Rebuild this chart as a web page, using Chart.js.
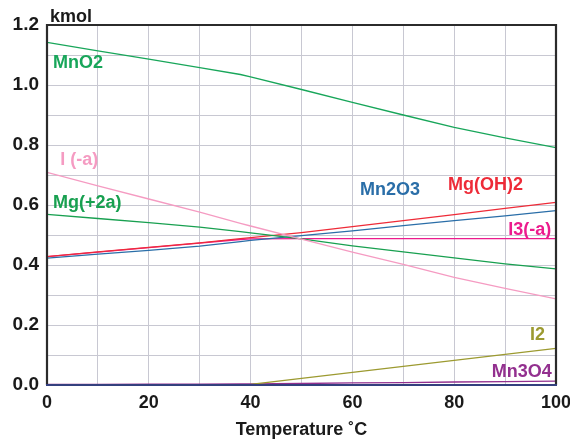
<!DOCTYPE html>
<html>
<head>
<meta charset="utf-8">
<script src="https://cdn.jsdelivr.net/npm/chart.js@4.4.0/dist/chart.umd.min.js"></script>
<style>
html,body{margin:0;padding:0;background:#fff;}
#wrap{width:570px;height:441px;position:relative;}
</style>
</head>
<body>
<div id="wrap"><canvas id="c" width="570" height="441"></canvas></div>
<script>
const temps = [0, 10, 20, 30, 38, 40, 50, 60, 70, 80, 90, 100];
const MnO2   = [1.142, 1.114, 1.086, 1.058, 1.035, 1.027, 0.985, 0.942, 0.900, 0.859, 0.824, 0.791];
const I_a    = [0.709, 0.664, 0.620, 0.576, 0.539, 0.530, 0.486, 0.443, 0.402, 0.359, 0.322, 0.287];
const Mg2a   = [0.569, 0.555, 0.541, 0.526, 0.511, 0.507, 0.487, 0.464, 0.444, 0.424, 0.404, 0.387];
const MgOH2  = [0.428, 0.444, 0.459, 0.474, 0.488, 0.491, 0.508, 0.528, 0.548, 0.568, 0.589, 0.609];
const Mn2O3  = [0.423, 0.436, 0.449, 0.463, 0.478, 0.482, 0.498, 0.514, 0.531, 0.548, 0.564, 0.581];
const I3_a   = [0.428, 0.443, 0.458, 0.473, 0.485, 0.487, 0.488, 0.488, 0.488, 0.488, 0.488, 0.488];
const I2     = [0, 0, 0, 0, 0, 0.002, 0.022, 0.042, 0.062, 0.082, 0.102, 0.122];
const Mn3O4  = [0.002, 0.002, 0.003, 0.003, 0.004, 0.004, 0.005, 0.007, 0.008, 0.010, 0.011, 0.013];

const xTickLabels = ['0', '20', '40', '60', '80', '100'];
const yTickLabels = ['0.0', '0.2', '0.4', '0.6', '0.8', '1.0', '1.2'];

const seriesNames = ['MnO2', 'I (-a)', 'Mg(+2a)', 'Mn2O3', 'Mg(OH)2', 'I3(-a)', 'I2', 'Mn3O4'];
const seriesData  = [MnO2, I_a, Mg2a, Mn2O3, MgOH2, I3_a, I2, Mn3O4];
const colors = ['#18a65a', '#f59bc2', '#18a050', '#2a6ea8', '#ee2b38', '#ec1b8d', '#9c9a30', '#93308f'];

// label anchors in data units (temperature, kmol), left aligned, alphabetic baseline
const labelPos = [
  [1.2, 1.057], [2.6, 0.733], [1.2, 0.590], [61.5, 0.633],
  [78.8, 0.650], [90.6, 0.500], [94.9, 0.150], [87.4, 0.027]
];

const FONT = '"Liberation Sans", Arial, sans-serif';

const datasets = seriesNames.map((n, i) => ({
  label: n,
  data: temps.map((t, k) => ({x: t, y: seriesData[i][k]})),
  borderColor: colors[i],
  backgroundColor: colors[i],
  borderWidth: 1.3,
  pointRadius: 0,
  tension: 0,
  fill: false
}));

const framePlugin = {
  id: 'frame',
  afterDatasetsDraw(chart) {
    const {ctx, chartArea: a} = chart;
    ctx.save();
    ctx.lineWidth = 2.2;
    ctx.strokeStyle = '#2b2b2b';
    ctx.beginPath();
    ctx.moveTo(a.left, a.bottom);
    ctx.lineTo(a.left, a.top);
    ctx.lineTo(a.right, a.top);
    ctx.lineTo(a.right, a.bottom);
    ctx.stroke();
    ctx.strokeStyle = '#34407e';
    ctx.beginPath();
    ctx.moveTo(a.left - 1, a.bottom);
    ctx.lineTo(a.right + 1, a.bottom);
    ctx.stroke();
    // series labels
    const xs = chart.scales.x, ys = chart.scales.y;
    ctx.font = 'bold 18px ' + FONT;
    ctx.textAlign = 'left';
    ctx.textBaseline = 'alphabetic';
    seriesNames.forEach((n, i) => {
      ctx.fillStyle = colors[i];
      ctx.fillText(n, xs.getPixelForValue(labelPos[i][0]), ys.getPixelForValue(labelPos[i][1]));
    });
    // unit label
    ctx.fillStyle = '#1a1a1a';
    ctx.font = 'bold 18px ' + FONT;
    ctx.fillText('kmol', a.left + 3, a.top - 3);
    ctx.restore();
  }
};

new Chart(document.getElementById('c'), {
  type: 'line',
  data: {datasets},
  options: {
    responsive: false,
    animation: false,
    layout: {padding: {top: 25, right: 14, left: 0, bottom: 0}},
    plugins: {legend: {display: false}, tooltip: {enabled: false}},
    scales: {
      x: {
        type: 'linear', min: 0, max: 100,
        afterFit(s) { s.height = 56; s.paddingRight = 0; s.paddingLeft = 0; },
        border: {display: false},
        grid: {color: '#c8c8d2', lineWidth: 1, drawTicks: false},
        title: {display: true, text: 'Temperature ˚C', color: '#1a1a1a',
                font: {family: FONT, size: 18, weight: 'bold'}, padding: {top: 9, bottom: 0}},
        ticks: {
          stepSize: 10, autoSkip: false, maxRotation: 0, padding: 7,
          color: '#1a1a1a', font: {family: FONT, size: 18, weight: 'bold'},
          callback: v => (Math.round(v) % 20 === 0 ? xTickLabels[Math.round(v) / 20] : '')
        }
      },
      y: {
        type: 'linear', min: 0, max: 1.2,
        afterFit(s) { s.width = 47; s.paddingTop = 0; s.paddingBottom = 0; },
        border: {display: false},
        grid: {color: '#c8c8d2', lineWidth: 1, drawTicks: false},
        ticks: {
          stepSize: 0.1, autoSkip: false, padding: 8,
          color: '#1a1a1a', font: {family: FONT, size: 19, weight: 'bold'},
          callback: v => {
            const k = Math.round(v * 10);
            return k % 2 === 0 ? yTickLabels[k / 2] : '';
          }
        }
      }
    }
  },
  plugins: [framePlugin]
});
</script>
</body>
</html>
